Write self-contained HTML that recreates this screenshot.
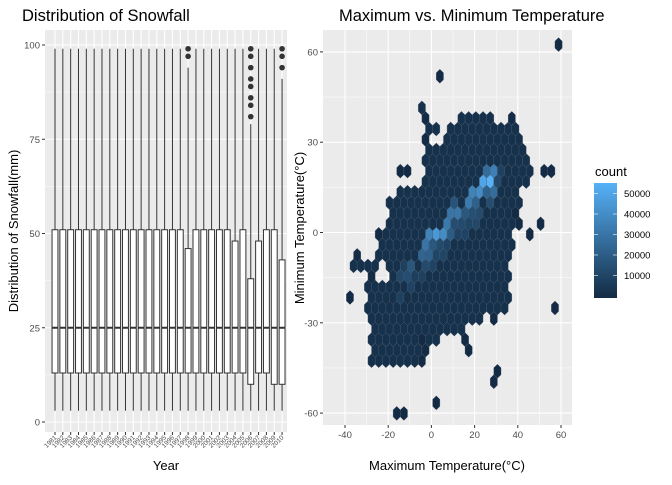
<!DOCTYPE html>
<html><head><meta charset="utf-8"><style>
body{margin:0;background:#fff;font-family:"Liberation Sans",sans-serif}
svg text{font-family:"Liberation Sans",sans-serif}
</style></head><body>
<svg id="c" width="672" height="480" viewBox="0 0 672 480" xmlns="http://www.w3.org/2000/svg"></svg>
<script>
// ---------- Left: snowfall boxplots ----------
const years = [];
for (let y = 1981; y <= 2010; y++) years.push(String(y));
const q1 =    [13,13,13,13,13,13,13,13,13,13,13,13,13,13,13,13,13,13,13,13,13,13,13,13,13,10,13,13,10,10];
const med =   [25,25,25,25,25,25,25,25,25,25,25,25,25,25,25,25,25,25,25,25,25,25,25,25,25,25,25,25,25,25];
const q3 =    [51,51,51,51,51,51,51,51,51,51,51,51,51,51,51,51,51,46,51,51,51,51,51,48,51,38,48,51,51,43];
const wLow =  [3,3,3,3,3,3,3,3,3,3,3,3,3,3,3,3,3,3,3,3,3,3,3,3,3,3,3,3,3,3];
const wHigh = [99,99,99,99,99,99,99,99,99,99,99,99,99,99,99,99,99,94,99,99,99,99,99,99,99,79,99,99,99,91];
const outlierYear = [17,17,25,25,25,25,25,25,25,25,29,29,29];
const outlierVal  = [99,97,99,97,94,91,89,86,84,81,99,97,94];
const snowTicks = [0,25,50,75,100];

// ---------- Right: hexbin ----------
const rowY    = [40.7,36.7,33.4,33.4,30,30,26.7,23.3,20,20,16.7,12.8,9.5,5.6,2.3,-1,-4.4,-7.7,-11,-11,-14.3,-18.2,-21.6,-25.5,-28.8,-32.1,-35.4,-38.7,-42.3];
const rowXmin = [-5.3,12.5,-2.3,10.2,6.4,6.4,-2.3,-1.5,-2.3,-2.3,-3.7,-15.5,-17.8,-18.6,-20.1,-22,-22,-22.8,-35.9,-18.6,-18.6,-29.3,-29.3,-28.5,-27,-26.2,-26.2,-25.4,-26.2];
const rowXmax = [-5.3,26.2,2,39.4,41,41,41.8,42.6,-2.3,44.6,43,38.6,39.4,38.6,36,34,36,35,-25.1,35,34.2,34.2,34.2,33.4,21.4,13.7,1.4,-3.2,-7.8];
const isoX = [2.6,-3.3,35.9,-3.3,-16,-12.5,53,40,40,51.5,-24,46.5,-34.3,-26.5,-37.7,27.6,14,16.6,-5,-1.5,-3.3,1.4,-16,-12.5,60,58.6,54,49,28,31];
const isoY = [51,36.7,36.7,30,20,20,20,5.6,2.3,2.3,-1,-1,-7.7,-14.3,-21.6,-28.8,-35.4,-40,-35.4,-38.7,-42.3,-56,-59,-59,61,-25.5,20,3.5,-48,-45];
// moderate band around the ridge
const bandX = [-14,-11,-8,-6,-3,-1,2,4,6,9,11,14,17,20,22,25,27,30,-12,-9,-6,-3,0,3,6,9,12,15,18,21,24,27,-7,-4,-1,2,5,8,11,14,17,20,23,26,29,31];
const bandY = [-20,-18,-16,-13,-11,-9,-6,-4,-2,0,2,4,6,8,10,12,15,18,-12,-10,-7,-5,-3,-1,1,3,5,7,9,11,13,17,-16,-14,-12,-9,-7,-5,-2,0,2,4,7,9,12,20];
const bandC = [9000,10000,11000,13000,13000,14000,14000,13000,12000,12000,12000,13000,14000,15000,16000,17000,18000,12000,9000,11000,14000,16000,18000,18000,15000,14000,14000,16000,18000,20000,22000,20000,8000,9000,10000,11000,11000,10000,10000,10000,11000,12000,13000,14000,14000,9000];
const ridgeX = [-13,-10,-8,0,8,15,20,10,-4,-5,-2,0,3,5,7,10,13,16,19,21,24,26,28,24,29];
const ridgeY = [-16,-14,-10,-6,0,5,10,9,-3,-8,-5,-2,0,0,3,5,7,10,12,14,16,18,21,21,15];
const ridgeC = [12000,14000,18000,22000,20000,18000,22000,17000,18000,24000,30000,36000,45000,40000,32000,30000,31000,33000,36000,40000,50000,55000,35000,27000,27000];
const baseCount = 2500;
const tempTicks = [-40,-20,0,20,40,60];
const minTempTicks = [-60,-30,0,30,60];
const legendTicks = [10000,20000,30000,40000,50000];

const NS = "http://www.w3.org/2000/svg";
const svg = document.getElementById('c');
function mk(tag, attrs, parent) {
  const e = document.createElementNS(NS, tag);
  for (const k in attrs) e.setAttribute(k, attrs[k]);
  (parent || svg).appendChild(e);
  return e;
}
function txt(s, attrs, parent) { const t = mk('text', attrs, parent); t.textContent = s; return t; }

// ===== Left panel =====
const L = {x0: 45, x1: 287, y0: 30, y1: 432};
const sy = v => 422 - v * 3.77;
const sx = i => 55 + i * 7.83;
const lp = mk('rect', {x: L.x0, y: L.y0, width: L.x1 - L.x0, height: L.y1 - L.y0, fill: '#EBEBEB'});


for (let k = 0; k < snowTicks.length - 1; k++) {
  const v = (snowTicks[k] + snowTicks[k + 1]) / 2;
  mk('line', {x1: L.x0, x2: L.x1, y1: sy(v), y2: sy(v), stroke: '#fff', 'stroke-width': 0.5});
}
snowTicks.forEach(v => {
  mk('line', {x1: L.x0, x2: L.x1, y1: sy(v), y2: sy(v), stroke: '#fff', 'stroke-width': 1.1});
  mk('line', {x1: L.x0 - 3, x2: L.x0, y1: sy(v), y2: sy(v), stroke: '#333', 'stroke-width': 1});
  const t = txt(String(v), {x: L.x0 - 5, y: sy(v) + 3.5, 'text-anchor': 'end', 'font-size': 9.5, fill: '#4D4D4D'});
  
  
});
years.forEach((yr, i) => {
  mk('line', {x1: sx(i), x2: sx(i), y1: L.y0, y2: L.y1, stroke: '#fff', 'stroke-width': 1.1});
});
years.forEach((yr, i) => {
  const g = mk('g', {});
  
  
  const x = sx(i), w = 5.9;
  mk('line', {x1: x, x2: x, y1: sy(wLow[i]), y2: sy(wHigh[i]), stroke: '#333', 'stroke-width': 1}, g);
  mk('rect', {x: x - w / 2, y: sy(q3[i]), width: w, height: sy(q1[i]) - sy(q3[i]), fill: '#fff', stroke: '#333', 'stroke-width': 1}, g);
  mk('line', {x1: x - w / 2, x2: x + w / 2, y1: sy(med[i]), y2: sy(med[i]), stroke: '#333', 'stroke-width': 2}, g);
  mk('line', {x1: x, x2: x, y1: L.y1, y2: L.y1 + 3, stroke: '#333', 'stroke-width': 1});
  const t = txt(yr, {x: 0, y: 0, 'font-size': 6.5, fill: '#4D4D4D', 'text-anchor': 'end', transform: `translate(${x + 2},${L.y1 + 6}) rotate(-45)`});
  
  
});
outlierYear.forEach((yi, k) => {
  const c = mk('circle', {cx: sx(yi), cy: sy(outlierVal[k]), r: 2.8, fill: '#333'});
  
  
});
let t;
t = txt('Distribution of Snowfall', {x: 22, y: 21, 'font-size': 16.5, fill: '#000'});
 
t = txt('Year', {x: 166, y: 470, 'font-size': 13, fill: '#000', 'text-anchor': 'middle'});
 
t = txt('Distribution of Snowfall(mm)', {x: 0, y: 0, 'font-size': 13, fill: '#000', 'text-anchor': 'middle', transform: 'translate(18,231) rotate(-90)'});
 

// ===== Right panel =====
const R = {x0: 323, x1: 572, y0: 30, y1: 425};
const hx = v => 431.4 + v * 2.16;
const hy = v => 232.5 - v * 3.01;
const rp = mk('rect', {x: R.x0, y: R.y0, width: R.x1 - R.x0, height: R.y1 - R.y0, fill: '#EBEBEB'});


for (let k = 0; k < tempTicks.length - 1; k++) { const v = (tempTicks[k] + tempTicks[k + 1]) / 2; mk('line', {x1: hx(v), x2: hx(v), y1: R.y0, y2: R.y1, stroke: '#fff', 'stroke-width': 0.5}); }
for (let k = 0; k < minTempTicks.length - 1; k++) { const v = (minTempTicks[k] + minTempTicks[k + 1]) / 2; mk('line', {x1: R.x0, x2: R.x1, y1: hy(v), y2: hy(v), stroke: '#fff', 'stroke-width': 0.5}); }
tempTicks.forEach(v => {
  mk('line', {x1: hx(v), x2: hx(v), y1: R.y0, y2: R.y1, stroke: '#fff', 'stroke-width': 1.1});
  mk('line', {x1: hx(v), x2: hx(v), y1: R.y1, y2: R.y1 + 3, stroke: '#333'});
  const t = txt(String(v), {x: hx(v), y: R.y1 + 13, 'text-anchor': 'middle', 'font-size': 9.5, fill: '#4D4D4D'});
   
});
minTempTicks.forEach(v => {
  mk('line', {x1: R.x0, x2: R.x1, y1: hy(v), y2: hy(v), stroke: '#fff', 'stroke-width': 1.1});
  mk('line', {x1: R.x0 - 3, x2: R.x0, y1: hy(v), y2: hy(v), stroke: '#333'});
  const t = txt(String(v), {x: R.x0 - 5, y: hy(v) + 3.5, 'text-anchor': 'end', 'font-size': 9.5, fill: '#4D4D4D'});
   
});

// hex grid
const gY0 = -21.6, gDY = 3.5, gX0 = -37.7, gDX = 3.33;
function snap(x, y) {
  const k = Math.round((y - gY0) / gDY);
  const off = ((k % 2) + 2) % 2 ? gDX / 2 : 0;
  const j = Math.round((x - gX0 - off) / gDX);
  return [k, j, gX0 + off + j * gDX, gY0 + k * gDY];
}
const cells = new Map();
function put(x, y, c) { const s = snap(x, y); cells.set(s[0] + ',' + s[1], {x: s[2], y: s[3], c: c}); }
rowY.forEach((y, r) => {
  const s0 = snap(rowXmin[r], y), s1 = snap(rowXmax[r], y);
  for (let j = s0[1]; j <= s1[1]; j++) {
    const off = ((s0[0] % 2) + 2) % 2 ? gDX / 2 : 0;
    put(gX0 + off + j * gDX, y, baseCount);
  }
});
isoX.forEach((x, i) => put(x, isoY[i], 200));
bandX.forEach((x, i) => put(x, bandY[i], bandC[i]));
ridgeX.forEach((x, i) => put(x, ridgeY[i], ridgeC[i]));
const cMax = 55000;
function col(c) {
  const t = Math.max(0, Math.min(1, c / cMax));
  const a = [0x13, 0x2B, 0x43], b = [0x56, 0xB1, 0xF7];
  return 'rgb(' + a.map((v, i) => Math.round(v + (b[i] - v) * t)).join(',') + ')';
}
const hw = 3.6, hr = 7;
cells.forEach(cell => {
  const cx = hx(cell.x), cy = hy(cell.y);
  const pts = [[cx, cy - hr], [cx + hw, cy - hr / 2], [cx + hw, cy + hr / 2], [cx, cy + hr], [cx - hw, cy + hr / 2], [cx - hw, cy - hr / 2]].map(p => p.join(',')).join(' ');
  const h = mk('polygon', {points: pts, fill: col(cell.c), stroke: '#4a5868', 'stroke-width': 0.35});
  
  
});
t = txt('Maximum vs. Minimum Temperature', {x: 339, y: 21, 'font-size': 16.5, fill: '#000'});
 
t = txt('Maximum Temperature(°C)', {x: 447, y: 470, 'font-size': 13, fill: '#000', 'text-anchor': 'middle'});
 
t = txt('Minimum Temperature(°C)', {x: 0, y: 0, 'font-size': 13, fill: '#000', 'text-anchor': 'middle', transform: 'translate(304,228) rotate(-90)'});
 

// legend
const lg = mk('g', {});


const defs = mk('defs', {});
const grad = mk('linearGradient', {id: 'lg', x1: 0, y1: 1, x2: 0, y2: 0}, defs);
mk('stop', {offset: 0, 'stop-color': '#132B43'}, grad);
mk('stop', {offset: 1, 'stop-color': '#56B1F7'}, grad);
const ly = v => 296 - v * 0.00205;
mk('rect', {x: 594, y: 183, width: 23, height: 115, fill: 'url(#lg)'}, lg);
txt('count', {x: 595, y: 176, 'font-size': 13, fill: '#000'}, lg);
legendTicks.forEach(v => {
  mk('line', {x1: 594, x2: 598, y1: ly(v), y2: ly(v), stroke: '#fff', 'stroke-width': 0.6}, lg);
  mk('line', {x1: 613, x2: 617, y1: ly(v), y2: ly(v), stroke: '#fff', 'stroke-width': 0.6}, lg);
  txt(String(v), {x: 624, y: ly(v) + 3.5, 'font-size': 9.5, fill: '#000'}, lg);
});
</script>
</body></html>
